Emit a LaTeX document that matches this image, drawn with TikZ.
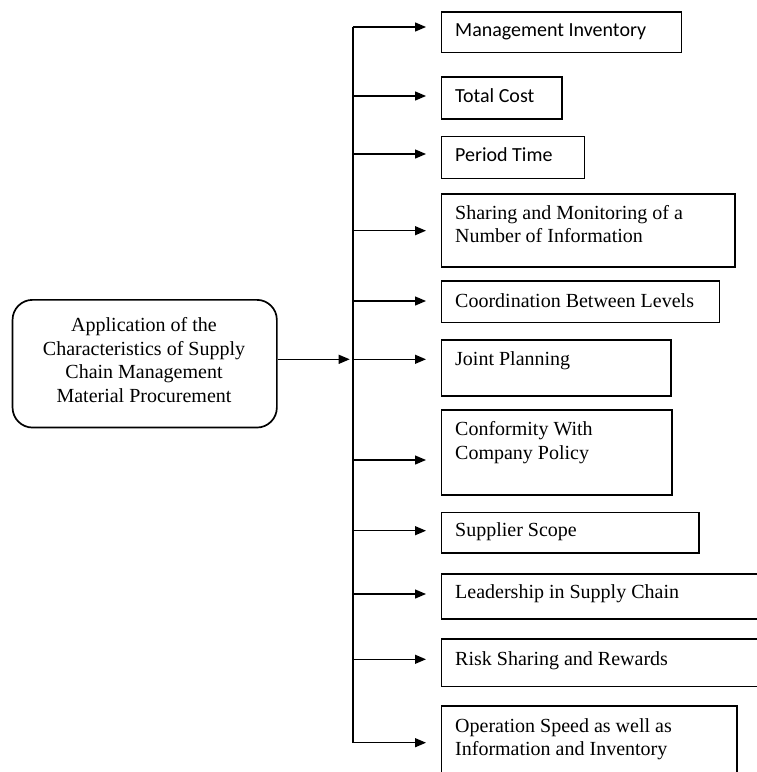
\documentclass[tikz,border=0pt]{standalone}
\usepackage{fontspec}
\setmainfont{Liberation Serif}
\newfontfamily\calib{Carlito}
\usetikzlibrary{arrows.meta,calc}
\begin{document}
\begin{tikzpicture}[x=1pt,y=-1pt,
  box/.style={draw, line width=1.7pt, inner sep=0pt, anchor=north west},
  lbl/.style={anchor=base west, inner sep=0pt, font=\fontsize{20}{23}\selectfont},
  clbl/.style={anchor=base, inner sep=0pt, font=\fontsize{20}{23}\selectfont},
  arr/.style={line width=1.3pt, -{Triangle[length=11pt,width=9pt]}, shorten >=14.7pt},
  trunk/.style={line width=1.8pt}]
\fill[white] (0,0) rectangle (756,772);
\useasboundingbox (0,0) rectangle (756,772);
% left box
\node[box, rounded corners=20pt, minimum width=264.3pt, minimum height=127.7pt] (L) at (11.7,299) {};
\node[clbl] (l1) at (144,331.7) {Application of the};
\node[clbl] (l2) at (144,355.2) {Characteristics of Supply};
\node[clbl] (l3) at (144,378.7) {Chain Management};
\node[clbl] (l4) at (144,402.2) {Material Procurement};
% boxes
\node[box, minimum width=240pt, minimum height=40.7pt] (b1) at (440.7,11) {};
\node[box, minimum width=120.3pt, minimum height=42pt] (b2) at (440.7,76) {};
\node[box, minimum width=143pt, minimum height=42pt] (b3) at (440.7,135.7) {};
\node[box, minimum width=293.3pt, minimum height=73pt] (b4) at (440.7,193) {};
\node[box, minimum width=278pt, minimum height=41.7pt] (b5) at (440.7,280) {};
\node[box, minimum width=229.3pt, minimum height=55.7pt] (b6) at (440.7,339.3) {};
\node[box, minimum width=230.3pt, minimum height=85pt] (b7) at (440.7,409.3) {};
\node[box, minimum width=257.6pt, minimum height=40.6pt] (b8) at (440.7,511.7) {};
\node[box, minimum width=340pt, minimum height=45pt] (b9) at (440.7,573.3) {};
\node[box, minimum width=340pt, minimum height=47.4pt] (b10) at (440.7,638.3) {};
\node[box, minimum width=295.3pt, minimum height=90pt] (b11) at (440.7,705) {};
% labels
\node[lbl] (x1) at (455,36) {\calib Management Inventory};
\node[lbl] (x2) at (455,102.3) {\calib Total Cost};
\node[lbl] (x3) at (455,161.7) {\calib Period Time};
\node[lbl] (x4a) at (455,219.3) {Sharing and Monitoring of a};
\node[lbl] (x4b) at (455,242.7) {Number of Information};
\node[lbl] (x5) at (455,307) {Coordination Between Levels};
\node[lbl] (x6) at (455,365) {Joint Planning};
\node[lbl] (x7a) at (455,435) {Conformity With};
\node[lbl] (x7b) at (455,459) {Company Policy};
\node[lbl] (x8) at (455,536.7) {Supplier Scope};
\node[lbl] (x9) at (455,598.3) {Leadership in Supply Chain};
\node[lbl] (x10) at (455,665) {Risk Sharing and Rewards};
\node[lbl] (x11a) at (455,732.7) {Operation Speed as well as};
\node[lbl] (x11b) at (455,755) {Information and Inventory};
% trunk
\foreach \i/\yy in {1/27,2/96,3/154,4/230.7,5/301,6/359.3,7/460,8/530.7,9/594,10/659.3,11/742.7}
  \coordinate (t\i) at (352.7,\yy);
\draw[trunk] (t1) -- (t11);
\foreach \i in {1,...,11}
  \draw[arr] (t\i) -- (b\i.west |- t\i);
\draw[arr, shorten >=3pt] (L.east |- t6) -- (t6);
\end{tikzpicture}
\end{document}
